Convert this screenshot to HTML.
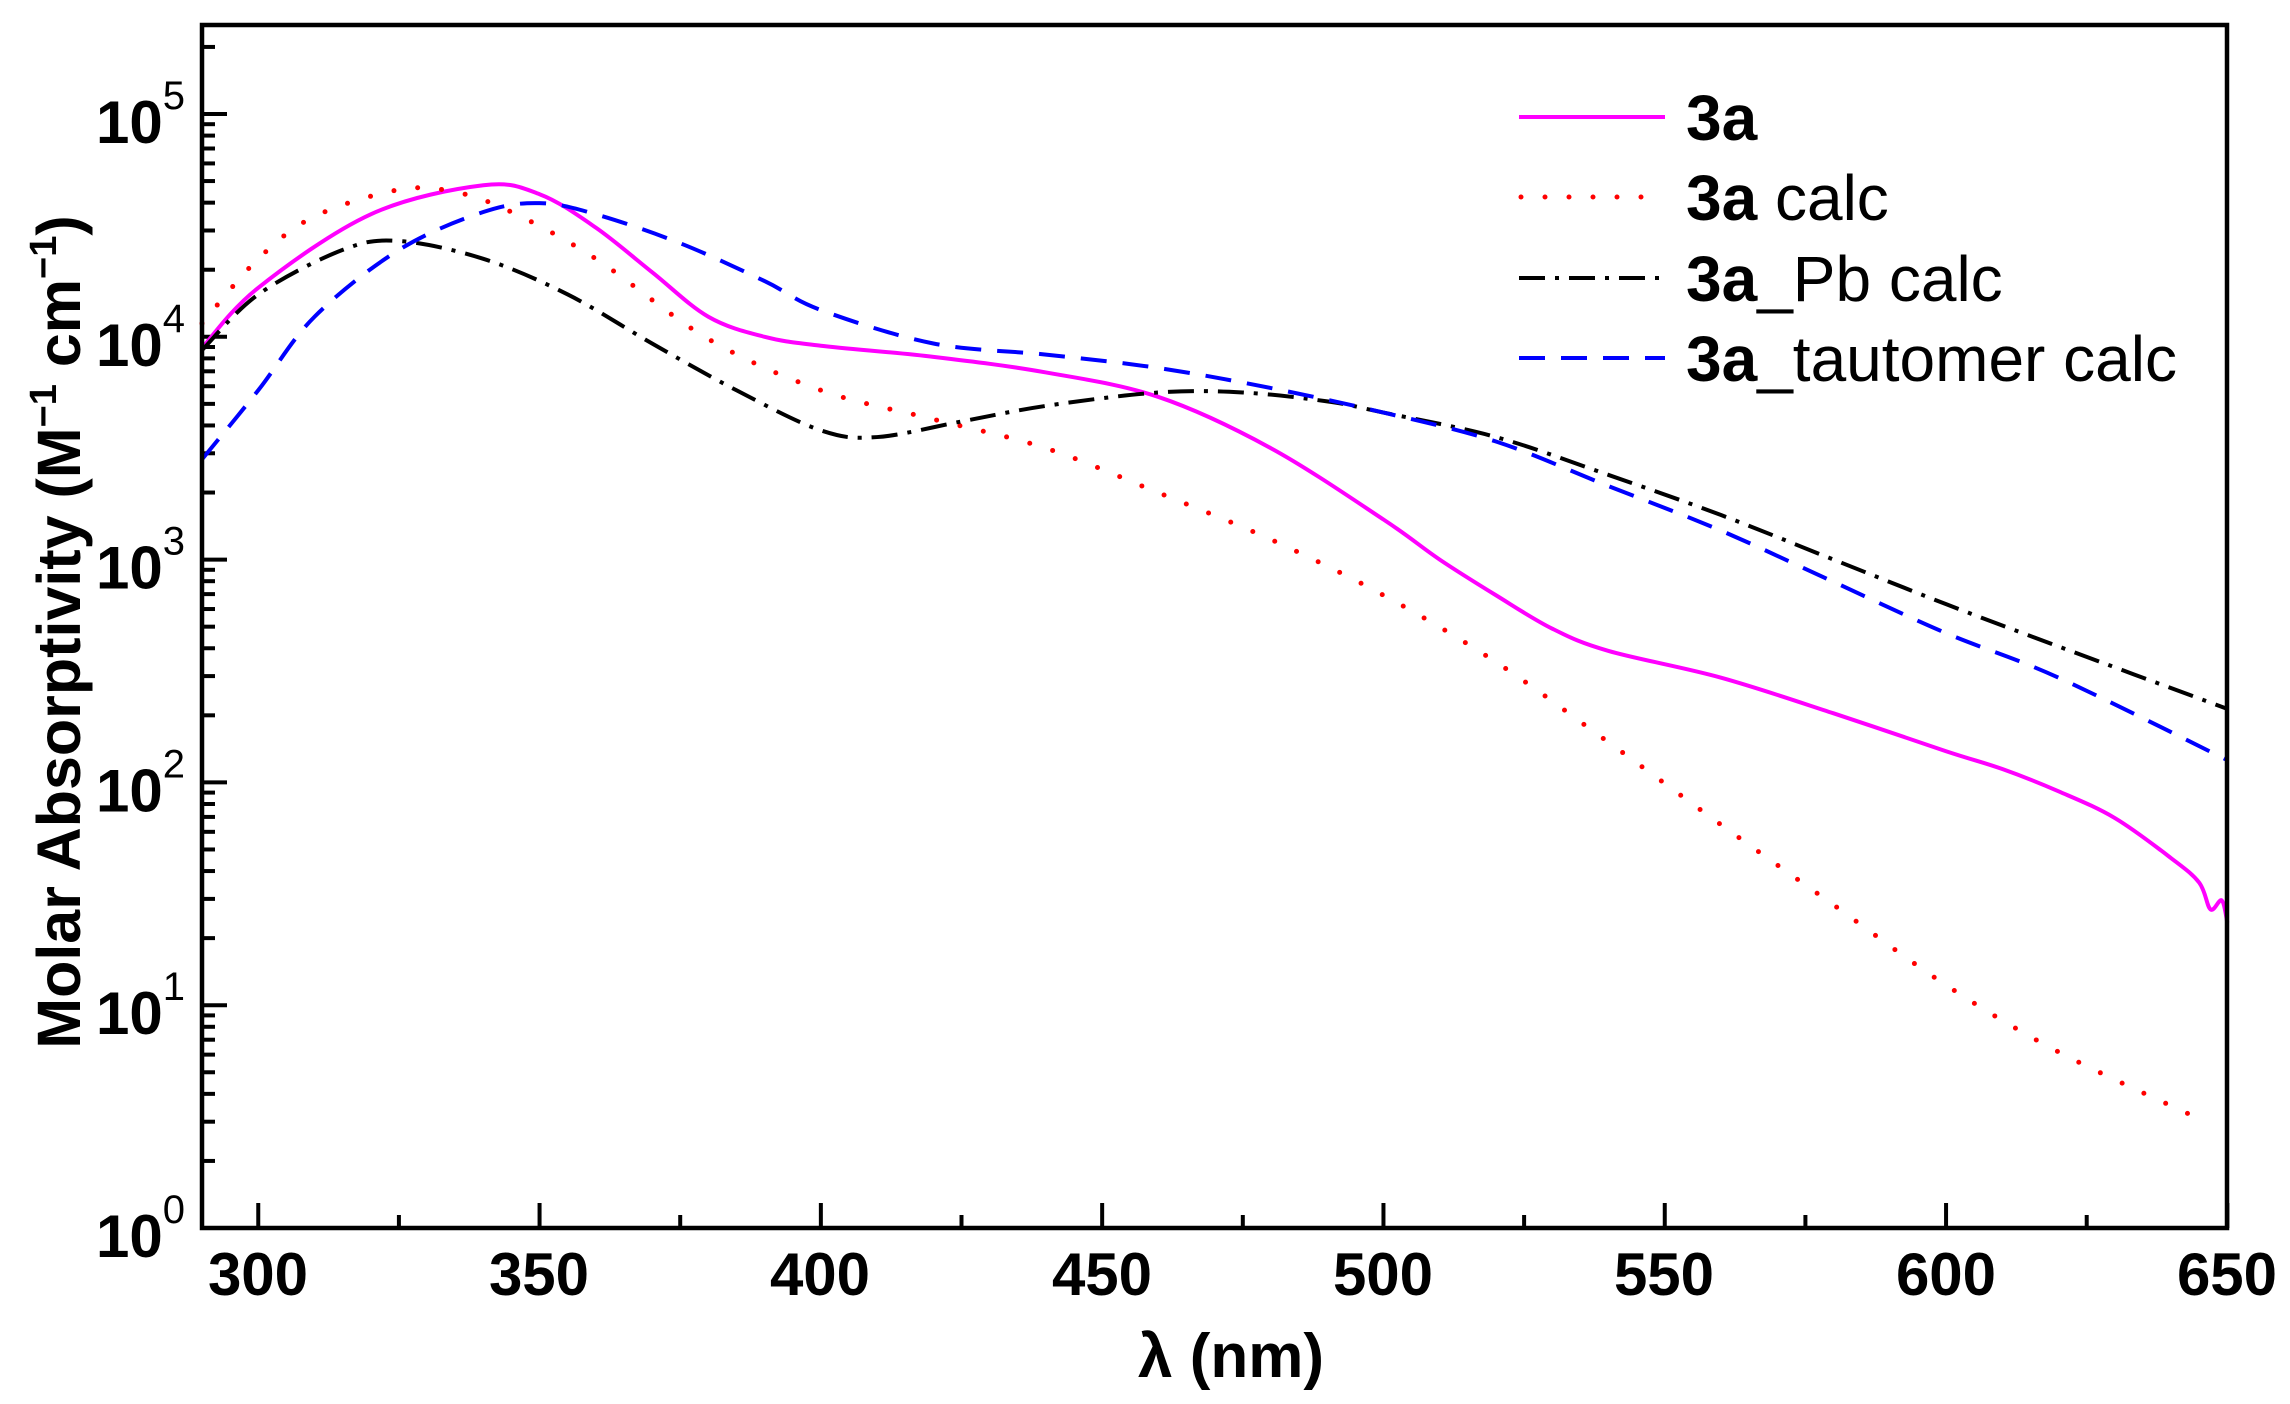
<!DOCTYPE html>
<html><head><meta charset="utf-8"><style>
html,body{margin:0;padding:0;background:#fff;}
svg{display:block;font-family:"Liberation Sans",Arial,sans-serif;}
</style></head><body>
<svg id="s" width="2290" height="1404" viewBox="0 0 2290 1404" xmlns="http://www.w3.org/2000/svg">
<g id="ticks" stroke="#000" stroke-width="4"></g>
<g id="curves" fill="none"></g>
<rect x="202" y="25" width="2025" height="1203" fill="none" stroke="#000" stroke-width="4.5"/>
<g font-weight="bold" font-size="60" text-anchor="middle" fill="#000">
<text x="258" y="1295">300</text><text x="539" y="1295">350</text><text x="820" y="1295">400</text>
<text x="1102" y="1295">450</text><text x="1383" y="1295">500</text><text x="1664" y="1295">550</text>
<text x="1946" y="1295">600</text><text x="2227" y="1295">650</text>
</g>
<g font-weight="bold" font-size="60" text-anchor="end" fill="#000" id="ylab"></g>
<text x="1231" y="1377" font-size="62" font-weight="bold" text-anchor="middle">λ (nm)</text>
<text transform="translate(80,632) rotate(-90)" font-size="61" font-weight="bold" text-anchor="middle">Molar Absorptivity (M<tspan dy="-24" font-size="38">−1</tspan><tspan dy="24"> cm</tspan><tspan dy="-24" font-size="38">−1</tspan><tspan dy="24">)</tspan></text>
<g font-size="64">
<line x1="1519" y1="117" x2="1665" y2="117" stroke="#ff00ff" stroke-width="4"/>
<line x1="1521" y1="197" x2="1665" y2="197" stroke="#ff0000" stroke-width="5" stroke-linecap="round" stroke-dasharray="0 24"/>
<line x1="1519" y1="278" x2="1665" y2="278" stroke="#000" stroke-width="4" stroke-dasharray="26 10 4 10"/>
<line x1="1519" y1="358" x2="1665" y2="358" stroke="#0000ff" stroke-width="4" stroke-dasharray="26 16"/>
<text x="1686" y="140"><tspan font-weight="bold">3a</tspan></text>
<text x="1686" y="220"><tspan font-weight="bold">3a</tspan> calc</text>
<text x="1686" y="301"><tspan font-weight="bold">3a</tspan>_Pb calc</text>
<text x="1686" y="381"><tspan font-weight="bold">3a</tspan>_tautomer calc</text>
</g>
</svg>
<script>
const NS="http://www.w3.org/2000/svg";
const X=nm=>202+(nm-290)*5.626, Y=l=>1228-222.8*l;
const tk=document.getElementById('ticks');
function ln(x1,y1,x2,y2){const e=document.createElementNS(NS,'line');e.setAttribute('x1',x1);e.setAttribute('y1',y1);e.setAttribute('x2',x2);e.setAttribute('y2',y2);tk.appendChild(e);}
for(let nm=300;nm<=650;nm+=25){const x=X(nm);ln(x,1228,x,1228-(nm%50==0?25:13));}
for(let d=0;d<=5;d++){for(let m=1;m<=9;m++){const l=d+Math.log10(m);if(l>5.4)break;const y=Y(l);ln(202,y,202+(m==1?25:13),y);}}
const yl=document.getElementById('ylab');
for(let d=0;d<=5;d++){const t=document.createElementNS(NS,'text');
t.innerHTML='10<tspan dy="-34" font-size="40" font-weight="normal">'+d+'</tspan>';t.setAttribute('x',185);t.setAttribute('y',Y(d)+29);yl.appendChild(t);}
function path(pts,attrs){
 let P=pts.map(p=>[X(p[0]),Y(p[1])]);
 let d='M'+P[0][0]+','+P[0][1];
 for(let i=0;i<P.length-1;i++){const p0=P[Math.max(0,i-1)],p1=P[i],p2=P[i+1],p3=P[Math.min(P.length-1,i+2)];
  const c1=[p1[0]+(p2[0]-p0[0])/6,p1[1]+(p2[1]-p0[1])/6],c2=[p2[0]-(p3[0]-p1[0])/6,p2[1]-(p3[1]-p1[1])/6];
  d+=' C'+c1+' '+c2+' '+p2;}
 const e=document.createElementNS(NS,'path');e.setAttribute('d',d);for(const k in attrs)e.setAttribute(k,attrs[k]);document.getElementById('curves').appendChild(e);
}
path([[290,3.95],[300,4.22],[320,4.55],[340,4.68],[350,4.64],[360,4.49],[370,4.29],[380,4.09],[390,4.0],[400,3.96],[420,3.91],[440,3.84],[460,3.73],[480,3.5],[500,3.18],[510,3.0],[520,2.84],[530,2.69],[540,2.59],[560,2.47],[580,2.31],[600,2.14],[610,2.06],[620,1.96],[630,1.84],[640,1.66],[645,1.55],[647,1.43],[649,1.47],[650,1.37]],{stroke:'#ff00ff','stroke-width':4});
path([[290,4.06],[300,4.35],[310,4.54],[325,4.66],[335,4.65],[345,4.56],[360,4.35],[380,3.99],[400,3.76],[420,3.63],[440,3.5],[460,3.3],[480,3.09],[500,2.84],[520,2.54],[540,2.18],[560,1.81],[580,1.45],[600,1.09],[620,0.79],[645,0.49]],{stroke:'#ff0000','stroke-width':5,'stroke-linecap':'round','stroke-dasharray':'0 24'});
path([[290,3.94],[300,4.19],[315,4.39],[325,4.43],[340,4.35],[355,4.19],[370,3.97],[385,3.76],[400,3.58],[410,3.55],[425,3.62],[440,3.69],[460,3.75],[475,3.75],[490,3.71],[500,3.66],[520,3.55],[540,3.38],[560,3.2],[580,3.0],[600,2.8],[620,2.61],[650,2.33]],{stroke:'#000','stroke-width':4,'stroke-dasharray':'26 10 4 10'});
path([[290,3.45],[300,3.76],[310,4.09],[325,4.39],[340,4.56],[350,4.6],[360,4.55],[375,4.42],[390,4.25],[400,4.12],[420,3.97],[440,3.92],[460,3.86],[480,3.77],[500,3.66],[520,3.53],[540,3.33],[560,3.13],[580,2.9],[600,2.67],[620,2.47],[650,2.1]],{stroke:'#0000ff','stroke-width':4,'stroke-dasharray':'26 16'});
</script>
</body></html>
